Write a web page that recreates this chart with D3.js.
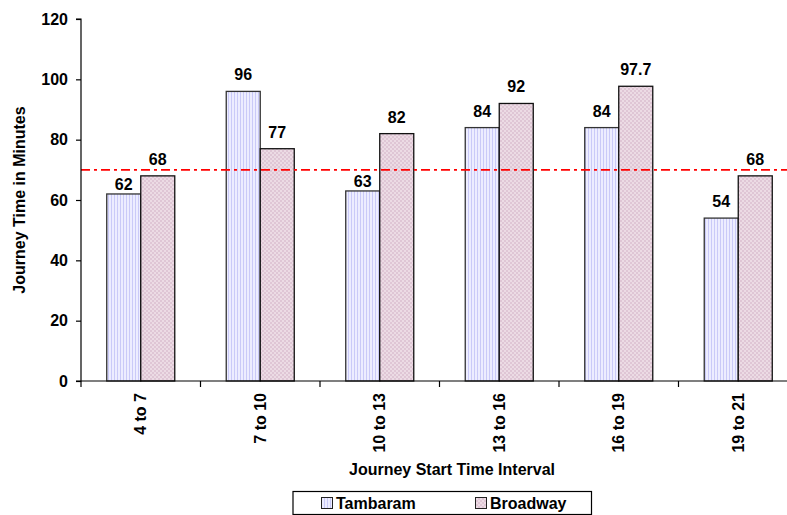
<!DOCTYPE html>
<html><head><meta charset="utf-8">
<script src="https://cdn.jsdelivr.net/npm/d3@7"></script>
<style>body{margin:0;background:#fff}svg{display:block}text{font-family:"Liberation Sans",Arial,sans-serif;font-weight:bold}</style>
</head><body>
<svg id="c" width="787" height="515"></svg>
<script>
const categories = ["4 to 7","7 to 10","10 to 13","13 to 16","16 to 19","19 to 21"];
const seriesNames = ["Tambaram","Broadway"];
const tambaram = [62,96,63,84,84,54];
const broadway = [68,77,82,92,97.7,68];
const valueLabels = [["62","96","63","84","84","54"],["68","77","82","92","97.7","68"]];
const referenceValue = 70;
const yTicks = [0,20,40,60,80,100,120];

const svg = d3.select("#c");
const defs = svg.append("defs");
const p1 = defs.append("pattern").attr("id","pT").attr("patternUnits","userSpaceOnUse").attr("width",3).attr("height",3);
p1.append("rect").attr("width",3).attr("height",3).attr("fill","#ededff");
p1.append("rect").attr("width",1).attr("height",3).attr("fill","#cacaf8");
const p2 = defs.append("pattern").attr("id","pB").attr("patternUnits","userSpaceOnUse").attr("width",4).attr("height",4);
p2.append("rect").attr("width",4).attr("height",4).attr("fill","#ecdbe4");
p2.append("rect").attr("width",2).attr("height",2).attr("fill","#dfc6d5");
p2.append("rect").attr("x",2).attr("y",2).attr("width",2).attr("height",2).attr("fill","#dfc6d5");

const x0 = 81, x1 = 798, yTop = 19, yBot = 381;
const FS = 16;
const x = d3.scaleBand().domain(categories).range([x0,x1]).paddingInner(0).paddingOuter(0);
const xs = d3.scaleBand().domain(seriesNames).range([0,x.bandwidth()]).paddingInner(0).paddingOuter(0.757);
const y = d3.scaleLinear().domain([0,120]).range([yBot,yTop]);

const fills = ["url(#pT)","url(#pB)"];
const strokes = ["#333","#111"];
const data = [tambaram, broadway];

// label baseline: normally 11px above bar; if that would cross the reference line, tuck it closer to the bar
const refY = y(referenceValue);
function labelY(d){
  const base = y(d) - 11;
  const top = base - 12;
  if (refY > top - 2 && refY < base + 2) return y(d) - 3.5;
  return base;
}

seriesNames.forEach((s,si)=>{
  svg.append("g").selectAll("rect").data(data[si]).join("rect")
    .attr("x",(d,i)=>x(categories[i])+xs(s))
    .attr("y",d=>y(d))
    .attr("width",xs.bandwidth())
    .attr("height",d=>y(0)-y(d))
    .attr("fill",fills[si]).attr("stroke",strokes[si]).attr("stroke-width",1.3);
  svg.append("g").selectAll("text").data(data[si]).join("text")
    .attr("x",(d,i)=>x(categories[i])+xs(s)+xs.bandwidth()/2)
    .attr("y",d=>labelY(d))
    .attr("text-anchor","middle").attr("font-size",FS).attr("fill","#000")
    .text((d,i)=>valueLabels[si][i]);
});

// reference line
svg.append("line").attr("x1",x0).attr("x2",x1).attr("y1",refY).attr("y2",refY)
  .attr("stroke","#ff0000").attr("stroke-width",1.8).attr("stroke-dasharray","9,4,3,4");

// axes
const ya = svg.append("g").attr("transform",`translate(${x0},0)`)
  .call(d3.axisLeft(y).tickValues(yTicks).tickSize(5).tickPadding(8));
ya.select(".domain").attr("stroke","#000").attr("stroke-width",1.2).attr("d",`M-5,${yTop}H0V${yBot}H-5`);
ya.selectAll(".tick line").attr("stroke","#000").attr("stroke-width",1.2);
ya.selectAll("text").attr("font-size",FS).attr("font-family","Liberation Sans, Arial, sans-serif").attr("font-weight","bold").attr("fill","#000");

const xa = svg.append("g").attr("transform",`translate(0,${yBot})`)
  .call(d3.axisBottom(x).tickSize(0).tickFormat(""));
xa.select(".domain").attr("stroke","#000").attr("stroke-width",1.2).attr("d",`M${x0},0H${x1}`);
svg.append("g").selectAll("line").data(categories.concat(["end"])).join("line")
  .attr("x1",(d,i)=>x0+i*x.bandwidth()).attr("x2",(d,i)=>x0+i*x.bandwidth())
  .attr("y1",yBot).attr("y2",yBot+6).attr("stroke","#000").attr("stroke-width",1.2);
svg.append("g").selectAll("text").data(categories).join("text")
  .attr("transform",d=>`translate(${x(d)+x.bandwidth()/2+5.5},${yBot+12}) rotate(-90)`)
  .attr("text-anchor","end").attr("font-size",FS).attr("fill","#000").text(d=>d);

// titles
svg.append("text").attr("x",452).attr("y",475).attr("text-anchor","middle").attr("font-size",FS).text("Journey Start Time Interval");
svg.append("text").attr("transform","translate(25,200) rotate(-90)").attr("text-anchor","middle").attr("font-size",FS).text("Journey Time in Minutes");

// legend
const lg = svg.append("g");
lg.append("rect").attr("x",293).attr("y",491.5).attr("width",298.5).attr("height",23).attr("fill","#fff").attr("stroke","#000").attr("stroke-width",1.2);
const lx = [321,475];
seriesNames.forEach((s,i)=>{
  lg.append("rect").attr("x",lx[i]+0.5).attr("y",497.5).attr("width",11).attr("height",11).attr("fill",fills[i]).attr("stroke","#222");
  lg.append("text").attr("x",lx[i]+15).attr("y",509).attr("font-size",FS).text(s);
});
</script>
</body></html>
